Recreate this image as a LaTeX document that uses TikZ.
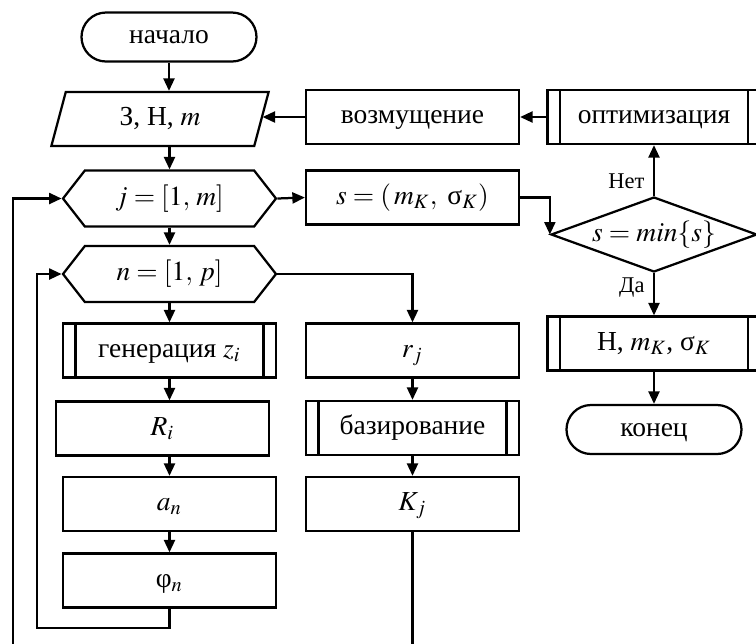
\documentclass[tikz,border=0pt]{standalone}
\usepackage{amsmath}
\usepackage{mathptmx}
\usepackage{fontspec}
\setmainfont{Liberation Serif}
\usetikzlibrary{arrows.meta,shapes.geometric,shapes.symbols}

\tikzset{
  base/.style={draw, line width=0.9pt, inner sep=1pt, text height=6.5pt, text depth=1.3pt, font=\fontsize{11}{13}\selectfont},
  block/.style={base, rectangle, minimum width=85.2pt, minimum height=21.6pt},
  subproc/.style={block, path picture={
      \draw[line width=0.9pt] ([xshift=5pt]path picture bounding box.north west) -- ([xshift=5pt]path picture bounding box.south west)
        ([xshift=-5pt]path picture bounding box.north east) -- ([xshift=-5pt]path picture bounding box.south east);}},
  term/.style={base, rectangle, rounded corners=9.8pt, minimum width=70pt, minimum height=19.6pt},
  loopbox/.style={base, signal, signal to=west and east, signal pointer angle=104, minimum width=85.2pt, minimum height=22.4pt},
  iobox/.style={base, trapezium, trapezium left angle=75, trapezium right angle=105, trapezium stretches=true, minimum width=87pt, minimum height=21.6pt},
  choice/.style={base, diamond, aspect=2.75, minimum width=82.4pt, minimum height=30pt, inner sep=0pt},
  conn/.style={line width=0.9pt, -{Triangle[length=5pt,width=4.4pt]}},
  lbl/.style={font=\fontsize{9}{11}\selectfont}
}

\begin{document}
\begin{tikzpicture}[x=0.4pt,y=-0.4pt]

\useasboundingbox (0,0) rectangle (756,643);
\clip (0,0) rectangle (756,643);

% left column
\node[term] (start) at (169,37) {начало};
\node[iobox] (input) at (160,119) {З, Н, $m$};
\node[loopbox] (jloop) at (169.5,198.5) {$j = [1,\,m]$};
\node[loopbox] (nloop) at (169.5,274) {$n = [1,\,p]$};
\node[subproc] (gen) at (169.5,350.5) {генерация $z_i$};
\node[block] (R) at (162.5,428.5) {$R_i$};
\node[block] (a) at (169.5,504) {$a_n$};
\node[block] (phi) at (169.5,580.5) {φ$_n$};

% middle column
\node[block] (dist) at (412.5,117) {возмущение};
\node[block] (s) at (412.5,197.5) {$s = (\,m_K,\ \text{σ}_K)$};
\node[block] (r) at (412.5,350.5) {$r_j$};
\node[subproc] (baz) at (412.5,428) {базирование};
\node[block] (K) at (412.5,504) {$K_j$};

% right column
\node[subproc] (opt) at (654,117) {оптимизация};
\node[choice] (dec) at (654,234.5) {$s = min\{s\}$};
\node[subproc] (out) at (654,343.5) {Н, $m_K$, σ$_K$};
\node[term] (end) at (654,429.5) {конец};

\coordinate (inback) at (37,628);
\coordinate (outback) at (13,670);

% arrows
\draw[conn] (start.south) -- (start.south |- input.north);
\draw[conn] (jloop.north |- input.south) -- (jloop.north);
\draw[conn] (jloop.south) -- (nloop.north);
\draw[conn] (nloop.south) -- (gen.north);
\draw[conn] (gen.south) -- (gen.south |- R.north);
\draw[conn] (a.north |- R.south) -- (a.north);
\draw[conn] (a.south) -- (phi.north);
\draw[conn] (phi.south) |- (inback) |- (nloop.west);

\draw[conn] (nloop.east) -| (r.north);
\draw[conn] (r.south) -- (baz.north);
\draw[conn] (baz.south) -- (K.north);
\draw[conn] (K.south) |- (outback) |- (jloop.west);

\draw[conn] (jloop.east) -- (s.west);
\draw[conn] (s.east) -| (dec.west);
\draw[conn] (dec.north) -- node[lbl, left, pos=0.28] {Нет} (opt.south);
\draw[conn] (dec.south) -- node[lbl, left, pos=0.34] {Да} (out.north);
\draw[conn] (out.south) -- (end.north);

% back to input
\draw[conn] (opt.west) -- (dist.east);
\draw[conn] (dist.west) -- (dist.west -| input.east);

\end{tikzpicture}
\end{document}
